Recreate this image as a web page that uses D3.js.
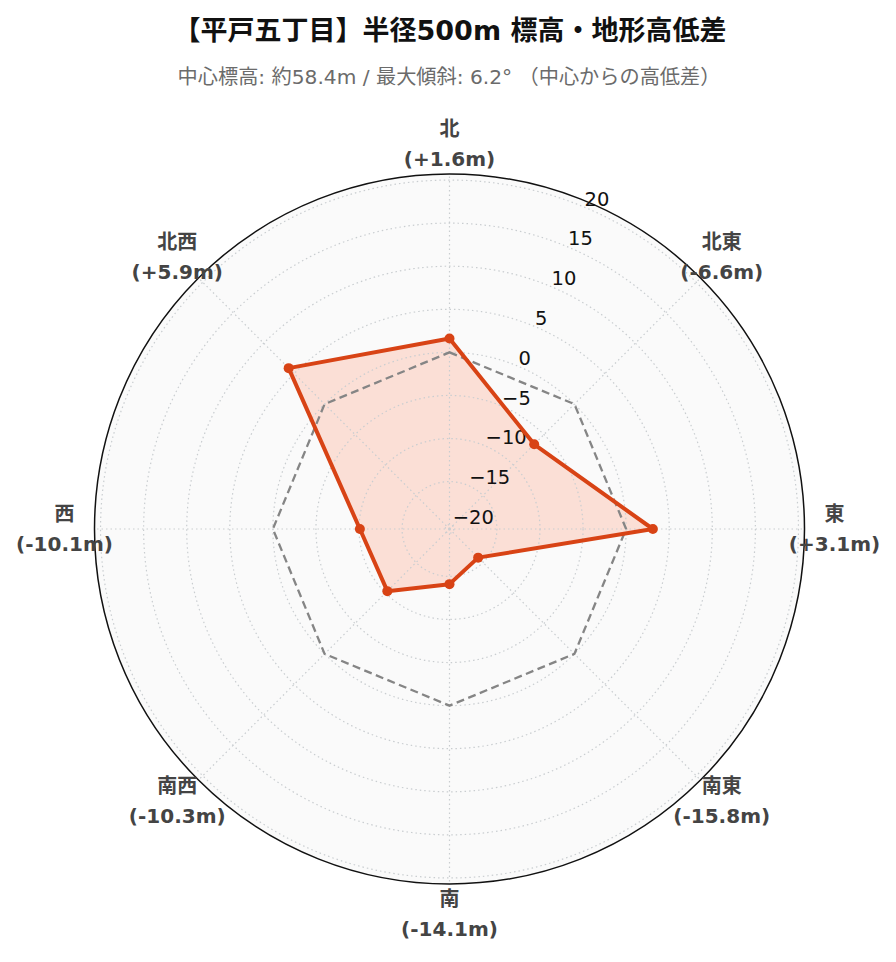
<!DOCTYPE html>
<html>
<head>
<meta charset="utf-8">
<script src="https://cdn.jsdelivr.net/npm/d3@7"></script>
<style>
  html, body { margin: 0; padding: 0; background: #ffffff; }
  svg { display: block; }
</style>
</head>
<body>
<div id="chart"></div>
<script>
const titleText = "【平戸五丁目】半径500m 標高・地形高低差";
const subtitleText = "中心標高: 約58.4m / 最大傾斜: 6.2° （中心からの高低差）";
const directions = ["北", "北東", "東", "南東", "南", "南西", "西", "北西"];
const diffs = [1.6, -6.6, 3.1, -15.8, -14.1, -10.3, -10.1, 5.9];
const zeroRef = [0, 0, 0, 0, 0, 0, 0, 0];
const radialTicks = [-20, -15, -10, -5, 0, 5, 10, 15, 20];
const radialRange = [-20.5, 20.7];

const W = 896, H = 962;
const cx = 449.5, cy = 529, R = 355;
const FONT = "'DejaVu Sans', 'Noto Sans CJK JP', sans-serif";

const svg = d3.select("#chart").append("svg")
  .attr("width", W).attr("height", H)
  .style("font-family", FONT);

svg.append("text")
  .attr("x", W / 2 + 2).attr("y", 30)
  .attr("text-anchor", "middle").attr("dominant-baseline", "central")
  .attr("font-size", 27).attr("font-weight", "bold").attr("fill", "#111")
  .text(titleText);

svg.append("text")
  .attr("x", W / 2 + 1).attr("y", 77)
  .attr("text-anchor", "middle").attr("dominant-baseline", "central")
  .attr("font-size", 20.2).attr("fill", "#6b6b6b")
  .text(subtitleText);

const r = d3.scaleLinear().domain(radialRange).range([0, R]);
const angle = d3.scaleLinear().domain([0, directions.length]).range([0, 2 * Math.PI]);
const pt = (i, v) => {
  const a = angle(i);
  return [Math.sin(a) * r(v), -Math.cos(a) * r(v)];
};

const g = svg.append("g").attr("transform", `translate(${cx},${cy})`);

// background
g.append("circle").attr("r", R).attr("fill", "#fafafa");

// data fill
const lineGen = d3.line().curve(d3.curveLinearClosed);
g.append("path")
  .attr("d", lineGen(diffs.map((v, i) => pt(i, v))))
  .attr("fill", "rgba(255,87,34,0.17)")
  .attr("stroke", "none");

// radial gridlines (circles)
g.selectAll("circle.grid").data(radialTicks).join("circle")
  .attr("class", "grid")
  .attr("r", d => r(d))
  .attr("fill", "none")
  .attr("stroke", "#c9cdd0")
  .attr("stroke-width", 1.2)
  .attr("stroke-dasharray", "1.5,3");

// angular gridlines
g.selectAll("line.spoke").data(directions).join("line")
  .attr("class", "spoke")
  .attr("x1", 0).attr("y1", 0)
  .attr("x2", (d, i) => Math.sin(angle(i)) * R)
  .attr("y2", (d, i) => -Math.cos(angle(i)) * R)
  .attr("stroke", "#c9cdd0")
  .attr("stroke-width", 1.2)
  .attr("stroke-dasharray", "1.5,3");

// radial tick labels along 22.5° axis
const tickAng = Math.PI / 8;
const fmt = d => (d < 0 ? "\u2212" + Math.abs(d) : String(d));
g.selectAll("text.rtick").data(radialTicks).join("text")
  .attr("class", "rtick")
  .attr("x", d => Math.sin(tickAng) * r(d) + 1.5)
  .attr("y", d => -Math.cos(tickAng) * r(d) - 1)
  .attr("font-size", 19.5)
  .attr("fill", "#111")
  .text(fmt);

// zero reference (dashed)
g.append("path")
  .attr("d", lineGen(zeroRef.map((v, i) => pt(i, v))))
  .attr("fill", "none")
  .attr("stroke", "#858585")
  .attr("stroke-width", 2.3)
  .attr("stroke-dasharray", "8,4.5");

// data line
g.append("path")
  .attr("d", lineGen(diffs.map((v, i) => pt(i, v))))
  .attr("fill", "none")
  .attr("stroke", "#d84315")
  .attr("stroke-width", 4)
  .attr("stroke-linejoin", "round");

g.selectAll("circle.mk").data(diffs).join("circle")
  .attr("class", "mk")
  .attr("cx", (d, i) => pt(i, d)[0])
  .attr("cy", (d, i) => pt(i, d)[1])
  .attr("r", 5)
  .attr("fill", "#d84315");

// outer circle
g.append("circle").attr("r", R)
  .attr("fill", "none").attr("stroke", "#111").attr("stroke-width", 1.5);

// angular labels
const labR = 385;
const fmtDiff = v => "(" + (v >= 0 ? "+" : "") + v.toFixed(1) + "m)";
const lab = g.selectAll("g.alab").data(directions).join("g")
  .attr("class", "alab")
  .attr("transform", (d, i) => `translate(${Math.sin(angle(i)) * labR},${-Math.cos(angle(i)) * labR})`);
lab.append("text")
  .attr("y", -15).attr("text-anchor", "middle").attr("dominant-baseline", "central")
  .attr("font-size", 20).attr("font-weight", "bold").attr("fill", "#444")
  .text(d => d);
lab.append("text")
  .attr("y", 15).attr("text-anchor", "middle").attr("dominant-baseline", "central")
  .attr("font-size", 20).attr("font-weight", "bold").attr("fill", "#444")
  .text((d, i) => fmtDiff(diffs[i]));
</script>
</body>
</html>
